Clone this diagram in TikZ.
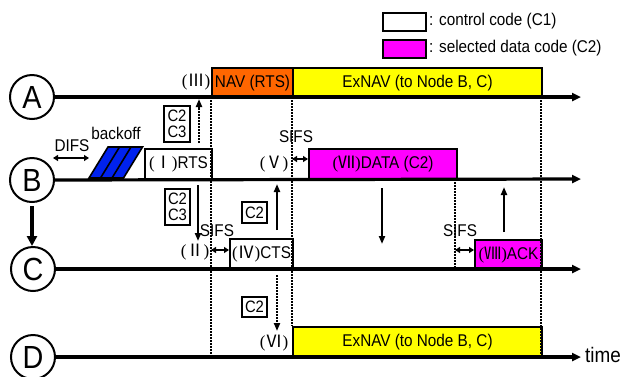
\documentclass[tikz,border=0pt]{standalone}
\usepackage{fontspec}
\setmainfont[FakeStretch=0.9]{Liberation Sans}
\newfontfamily\cjk{Noto Sans CJK JP}
\newfontfamily\serp{Liberation Serif}
\usetikzlibrary{arrows.meta}
\definecolor{navor}{HTML}{FF6600}
\definecolor{nyel}{HTML}{FFFF00}
\definecolor{nmag}{HTML}{FF00FF}
\definecolor{bblue}{HTML}{0022EE}
\newcommand{\rnum}[1]{{\serp(}{\cjk #1}{\serp)}}
\tikzset{
  tline/.style={line width=3.2pt,-{Triangle[length=9pt,width=8pt]}},
  vdot/.style={line width=2.4pt,dash pattern=on 1.8pt off 1.2pt},
  box/.style={draw,line width=2pt,inner sep=0pt,anchor=north west,font=\fontsize{17}{18}\selectfont},
  lab/.style={inner sep=0pt,font=\fontsize{17}{18}\selectfont},
  node circ/.style={draw,circle,line width=2pt,minimum size=44pt,inner sep=0pt,font=\fontsize{32}{32}\selectfont},
  sarr/.style={line width=2.2pt,-{Triangle[length=8pt,width=6pt]}},
  darr/.style={line width=2.4pt,dash pattern=on 1.8pt off 1.2pt,-{Triangle[length=8pt,width=6pt]}},
  dbl/.style={line width=2pt,{Triangle[length=5pt,width=6pt]}-{Triangle[length=5pt,width=6pt]}},
  cbox/.style={draw,line width=2pt,inner sep=0.5pt,align=center,font=\fontsize{16.5}{15.5}\selectfont},
}
\begin{document}
\begin{tikzpicture}[x=1pt,y=-1pt]
\useasboundingbox (0,0) rectangle (623,376);
% circles
\node[node circ] (A) at (32,97) {A};
\node[node circ] (B) at (32,180) {B};
\node[node circ] (C) at (33,269) {C};
\node[node circ] (D) at (33,357) {D};
% timeline ends
\coordinate (Ae) at (581,97);
\coordinate (Be) at (581,179);
\coordinate (Ce) at (581,269);
\coordinate (De) at (581,357);
% boxes
\node[box,fill=navor,minimum width=81pt,minimum height=30pt] (nav) at (211,67) {NAV (RTS)};
\node[box,fill=nyel,minimum width=249pt,minimum height=30pt] (exA) at (292,67) {ExNAV (to Node B, C)};
\node[box,fill=white,minimum width=67pt,minimum height=31pt] (rts) at (144,148) {\rnum{Ⅰ}RTS};
\node[box,fill=nmag,minimum width=148pt,minimum height=31pt] (data) at (308,148) {\rnum{Ⅶ}DATA (C2)};
\node[box,fill=white,minimum width=63pt,minimum height=31pt] (cts) at (229,238) {\rnum{Ⅳ}CTS};
\node[box,fill=nmag,minimum width=67pt,minimum height=30pt] (ack) at (474,239) {\rnum{Ⅷ}ACK};
\node[box,fill=nyel,minimum width=249pt,minimum height=31pt] (exD) at (292,326) {ExNAV (to Node B, C)};
% timelines
\draw[tline] (A.east) -- (Ae);
\draw[tline] (B.east) -- (Be);
\draw[tline] (C.east) -- (Ce);
\draw[tline] (D.east) -- (De);
% dotted verticals
\coordinate (v1t) at (211,97); \coordinate (v1b) at (211,357);
\coordinate (v2t) at (292,97); \coordinate (v2b) at (292,326);
\coordinate (v3t) at (455,179); \coordinate (v3b) at (455,269);
\coordinate (v4t) at (541,97); \coordinate (v4b) at (541,357);
\draw[vdot] (v1t) -- (v1b);
\draw[vdot] (v2t) -- (v2b);
\draw[vdot] (v3t) -- (v3b);
\draw[vdot] (v4t) -- (v4b);
% legend
\node[box,fill=white,minimum width=43pt,minimum height=18pt] (lg1) at (382,12) {};
\node[box,fill=nmag,minimum width=43pt,minimum height=18pt] (lg2) at (382,39) {};
\node[lab,anchor=west] (lt1) at (429,21) {: control code (C1)};
\node[lab,anchor=west] (lt2) at (429,48) {: selected data code (C2)};
% backoff parallelogram
\fill[bblue] (89,178) -- (108,147) -- (142.5,147) -- (123.5,178) -- cycle;
\draw[line width=1.6pt] (89,178) -- (108,147) -- (142.5,147) -- (123.5,178) -- cycle;
\draw[line width=1.6pt] (100.5,178) -- (119.5,147);
\draw[line width=1.6pt] (112,178) -- (131,147);
\node[lab] (bo) at (116,133) {backoff};
\node[lab] (difs) at (72,146) {DIFS};
\coordinate (d1) at (53,158); \coordinate (d2) at (89,158);
\draw[dbl] (d1) -- (d2);
% code boxes
\node[cbox,minimum width=26pt,minimum height=36pt] (c23a) at (177,124) {C2\\C3};
\node[cbox,minimum width=25pt,minimum height=36pt] (c23b) at (177.5,207) {C2\\C3};
\node[cbox,minimum width=25pt,minimum height=21pt] (c2a) at (254.5,212.5) {C2};
\node[cbox,minimum width=25pt,minimum height=20pt] (c2b) at (254.5,307) {C2};
% arrows
\coordinate (a1s) at (199,143); \coordinate (a1e) at (199,99);
\draw[darr] (a1s) -- (a1e);
\coordinate (a2s) at (198,185); \coordinate (a2e) at (198,241);
\draw[sarr] (a2s) -- (a2e);
\coordinate (a3s) at (277,230); \coordinate (a3e) at (277,184);
\draw[sarr] (a3s) -- (a3e);
\coordinate (a4s) at (277,275); \coordinate (a4e) at (277,331);
\draw[darr] (a4s) -- (a4e);
\coordinate (a5s) at (382,188); \coordinate (a5e) at (382,244);
\draw[sarr] (a5s) -- (a5e);
\coordinate (a6s) at (504,232); \coordinate (a6e) at (504,187);
\draw[sarr] (a6s) -- (a6e);
\coordinate (bc1) at (32,206); \coordinate (bc2) at (32,246);
\draw[line width=3.6pt,-{Triangle[length=10pt,width=10pt]}] (bc1) -- (bc2);
% SIFS
\node[lab] (s1) at (296,137) {SIFS};
\node[lab] (s2) at (217,231) {SIFS};
\node[lab] (s3) at (460,231) {SIFS};
\coordinate (s1a) at (292,159); \coordinate (s1b) at (308,159);
\draw[dbl] (s1a) -- (s1b);
\coordinate (s2a) at (211,250); \coordinate (s2b) at (229,250);
\draw[dbl] (s2a) -- (s2b);
\coordinate (s3a) at (455,250); \coordinate (s3b) at (474,250);
\draw[dbl] (s3a) -- (s3b);
% roman labels
\node[lab] (r3) at (196,82) {\rnum{Ⅲ}};
\node[lab] (r5) at (274,164) {\rnum{Ⅴ}};
\node[lab] (r2) at (195,252) {\rnum{Ⅱ}};
\node[lab] (r6) at (274,343) {\rnum{Ⅵ}};
\node[inner sep=0pt,font=\fontsize{21}{21}\selectfont] (tm) at (603,355) {time};
\end{tikzpicture}
\end{document}
